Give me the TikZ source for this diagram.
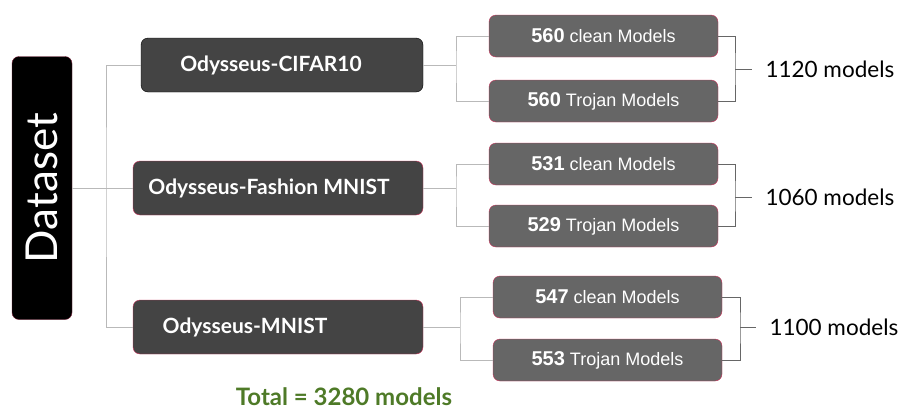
\documentclass[tikz,border=0pt]{standalone}
\usepackage{fontspec}
\setmainfont{Lato}
\newfontfamily\boxfont{Liberation Sans}
\usepackage{tikz}
\definecolor{branchgray}{HTML}{444444}
\definecolor{leafgray}{HTML}{666666}
\definecolor{crimson}{HTML}{C8325A}
\definecolor{totalgreen}{HTML}{4E7A27}
\tikzstyle{rootbox} = [draw=crimson!60!black, fill=black, rounded corners=7pt, text=white, minimum width=263pt, minimum height=60pt, font=\fontsize{44}{48}\selectfont, rotate=90]
\tikzstyle{branch} = [fill=branchgray, rounded corners=7pt, text=white, minimum width=290pt, minimum height=54pt, font=\fontsize{21}{24}\selectfont\bfseries]
\tikzstyle{leaf} = [draw=crimson, fill=leafgray, rounded corners=7pt, text=white, minimum width=229pt, minimum height=42pt, font=\boxfont\fontsize{18}{20}\selectfont]
\tikzstyle{total} = [anchor=west, font=\fontsize{22.5}{26}\selectfont]
\tikzstyle{tree} = [draw=gray!55, line width=1pt]
\tikzstyle{bracket} = [draw=gray!80!black, line width=1pt]
\newcommand{\cnt}[1]{{\bfseries\fontsize{20}{22}\selectfont #1}}

\begin{document}
\begin{tikzpicture}[x=1pt, y=-1pt]
  \useasboundingbox (0,0) rectangle (906,418);

  \node[rootbox] (ds) at (42,188) {Dataset};

  \node[branch, draw=black, minimum width=282pt] (cifar) at (282,65) {Odysseus-CIFAR10\hspace*{22pt}};
  \node[branch, draw=crimson] (fashion) at (278,188) {Odysseus-Fashion MNIST\hspace*{18pt}};
  \node[branch, draw=crimson] (mnist) at (278,327) {Odysseus-MNIST\hspace*{66pt}};

  \node[leaf] (c1) at (603.5,36) {\cnt{560} clean Models};
  \node[leaf] (t1) at (603.5,101) {\cnt{560} Trojan Models};
  \node[leaf] (c2) at (603.5,164) {\cnt{531} clean Models};
  \node[leaf] (t2) at (603.5,226) {\cnt{529} Trojan Models};
  \node[leaf] (c3) at (607.5,297) {\cnt{547} clean Models};
  \node[leaf] (t3) at (607.5,360) {\cnt{553} Trojan Models};

  % left tree
  \coordinate (j0) at (106,188);
  \draw[tree] (ds.south) -- (fashion.west);
  \draw[tree] (cifar.west) -| (j0) |- (mnist.west);

  % branch to leaves
  \coordinate (j1) at (456,65);
  \coordinate (j2) at (456,188);
  \coordinate (j3) at (460,327);
  \draw[tree] (cifar.east) -- (j1);
  \draw[tree] (c1.west) -| (j1) |- (t1.west);
  \draw[tree] (fashion.east) -- (j2);
  \draw[tree] (c2.west) -| (j2) |- (t2.west);
  \draw[tree] (mnist.east) -- (j3);
  \draw[tree] (c3.west) -| (j3) |- (t3.west);

  % brackets and counts
  \node[total] (n1) at (762,69) {1120 models};
  \node[total] (n2) at (762,197) {1060 models};
  \node[total] (n3) at (766,327) {1100 models};
  \coordinate (b1) at (735,69);
  \coordinate (b2) at (735,197);
  \coordinate (b3) at (740,327);
  \draw[bracket] (c1.east) -| (b1) |- (t1.east);
  \draw[bracket] (b1) -- ([xshift=-10pt]n1.west);
  \draw[bracket] (c2.east) -| (b2) |- (t2.east);
  \draw[bracket] (b2) -- ([xshift=-10pt]n2.west);
  \draw[bracket] (c3.east) -| (b3) |- (t3.east);
  \draw[bracket] (b3) -- ([xshift=-10pt]n3.west);

  \node[font=\fontsize{24}{28}\selectfont\bfseries, text=totalgreen] (sum) at (344,397) {Total = 3280 models};

\end{tikzpicture}
\end{document}
